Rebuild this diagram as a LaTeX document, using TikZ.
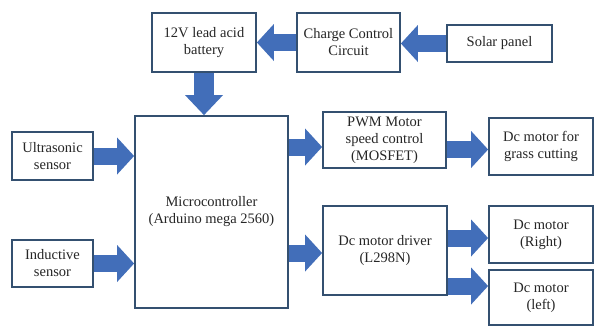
\documentclass[tikz,border=0pt]{standalone}
\usepackage{fontspec}
\setmainfont{Liberation Serif}
\usetikzlibrary{arrows.meta}
\definecolor{boxline}{RGB}{52,80,112}
\definecolor{arrowblue}{RGB}{66,110,185}
\tikzset{
  blk/.style={draw=boxline, line width=1.8pt, fill=white, align=center, inner sep=1pt,
    font=\fontsize{14.5}{17}\selectfont, text=black!85},
  fat/.style={draw=arrowblue, line width=17pt,
    -{Triangle[width=37pt,length=17pt,line width=0pt]}},
  fatv/.style={draw=arrowblue, line width=20pt,
    -{Triangle[width=38pt,length=20pt,line width=0pt]}}
}
\newcommand{\lowtext}[2]{\raisebox{#1}{\begin{tabular}{@{}c@{}}#2\end{tabular}}}
\begin{document}
\begin{tikzpicture}[x=1pt,y=-1pt]
\useasboundingbox (0,0) rectangle (594,327);
\node[blk, minimum width=104pt, minimum height=59pt] (bat) at (204,42.5) {12V lead acid\\battery};
\node[blk, minimum width=103pt, minimum height=59pt] (cc) at (348.5,42.5) {Charge Control\\Circuit};
\node[blk, minimum width=105pt, minimum height=37pt] (solar) at (499.5,43.5) {Solar panel};
\node[blk, minimum width=153pt, minimum height=192pt] (mc) at (211.5,212) {Microcontroller\\(Arduino mega 2560)};
\node[blk, minimum width=81pt, minimum height=48pt] (us) at (52.5,156) {Ultrasonic\\sensor};
\node[blk, minimum width=81pt, minimum height=47pt] (ind) at (52.5,263.5) {Inductive\\sensor};
\node[blk, minimum width=123pt, minimum height=56pt] (pwm) at (384.5,140) {PWM Motor\\speed control\\(MOSFET)};
\node[blk, minimum width=104pt, minimum height=57pt] (grass) at (541,146.5) {\lowtext{-7pt}{Dc motor for\\grass cutting}};
\node[blk, minimum width=124pt, minimum height=89pt] (drv) at (385,250.5) {\lowtext{-9pt}{Dc motor driver\\(L298N)}};
\node[blk, minimum width=104pt, minimum height=57pt] (right) at (541,234.5) {Dc motor\\(Right)};
\node[blk, minimum width=104pt, minimum height=55pt] (left) at (541,297.5) {Dc motor\\(left)};

\draw[fat] (cc.west) -- (bat.east);
\draw[fat] (solar.west) -- (solar.west -| cc.east);
\draw[fatv] (bat.south) -- (bat.south |- mc.north);
\draw[fat] (us.east) -- (us.east -| mc.west);
\draw[fat] (ind.east) -- (ind.east -| mc.west);
\draw[fat] ([yshift=-7pt]mc.east |- pwm.west) -- ([yshift=-7pt]pwm.west);
\draw[fat] ([yshift=-2.5pt]mc.east |- drv.west) -- ([yshift=-2.5pt]drv.west);
\draw[fat] ([yshift=-3pt]pwm.east |- grass.west) -- ([yshift=-3pt]grass.west);
\draw[fat] ([yshift=-3.5pt]drv.east |- right.west) -- ([yshift=-3.5pt]right.west);
\draw[fat] ([yshift=11.5pt]drv.east |- left.west) -- ([yshift=11.5pt]left.west);
\end{tikzpicture}
\end{document}
